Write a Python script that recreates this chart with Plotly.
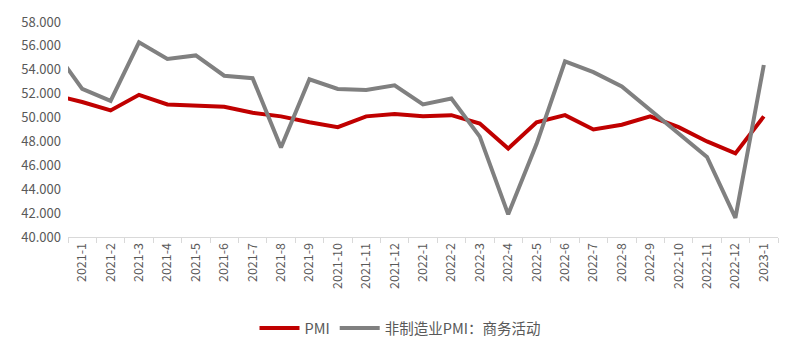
import plotly.graph_objects as go

months = ["2020-12",
          "2021-1", "2021-2", "2021-3", "2021-4", "2021-5", "2021-6", "2021-7", "2021-8",
          "2021-9", "2021-10", "2021-11", "2021-12",
          "2022-1", "2022-2", "2022-3", "2022-4", "2022-5", "2022-6", "2022-7", "2022-8",
          "2022-9", "2022-10", "2022-11", "2022-12", "2023-1"]

pmi = [51.9,
       51.3, 50.6, 51.9, 51.1, 51.0, 50.9, 50.4, 50.1, 49.6, 49.2, 50.1, 50.3,
       50.1, 50.2, 49.5, 47.4, 49.6, 50.2, 49.0, 49.4, 50.1, 49.2, 48.0, 47.0, 50.1]

nonmfg = [55.7,
          52.4, 51.4, 56.3, 54.9, 55.2, 53.5, 53.3, 47.5, 53.2, 52.4, 52.3, 52.7,
          51.1, 51.6, 48.4, 41.9, 47.8, 54.7, 53.8, 52.6, 50.6, 48.7, 46.7, 41.6, 54.4]

series_names = ["PMI", "非制造业PMI：商务活动"]
y_ticks = [40, 42, 44, 46, 48, 50, 52, 54, 56, 58]

FONT = "Noto Sans CJK SC, Liberation Sans, sans-serif"
TXT = "#595959"

# page body has an 8px default margin, so the figure is 792x349
W, H = 792, 349

fig = go.Figure()
fig.add_trace(go.Scatter(x=months, y=pmi, mode="lines", name=series_names[0],
                         line=dict(color="#C00000", width=4)))
fig.add_trace(go.Scatter(x=months, y=nonmfg, mode="lines", name=series_names[1],
                         line=dict(color="#808080", width=4)))

fig.update_layout(
    width=W, height=H,
    margin=dict(l=60, r=22, t=14, b=120, autoexpand=False),
    plot_bgcolor="white", paper_bgcolor="white",
    font=dict(family=FONT, color=TXT, size=12),
    showlegend=True,
    legend=dict(orientation="h", xref="container", yref="container",
                x=392 / W, xanchor="center", y=(H - 320) / H, yanchor="middle",
                font=dict(size=14.5, color=TXT), itemwidth=40, tracegroupgap=0),
)
fig.update_xaxes(
    type="category", range=[0.5, len(months) - 0.5],
    tickangle=-90, tickfont=dict(size=12.5, color=TXT),
    showline=True, linecolor="#D9D9D9", linewidth=1,
    ticks="outside", tickson="boundaries", ticklen=5, tickcolor="#D9D9D9",
    showgrid=False, zeroline=False,
)
fig.update_yaxes(
    range=[40, 58], tickvals=y_ticks, tickformat=".3f",
    tickfont=dict(size=13, color=TXT), ticklabelstandoff=6,
    showgrid=False, zeroline=False, showline=False, ticks="", ticklen=0,
)

fig.write_html("out.html")
